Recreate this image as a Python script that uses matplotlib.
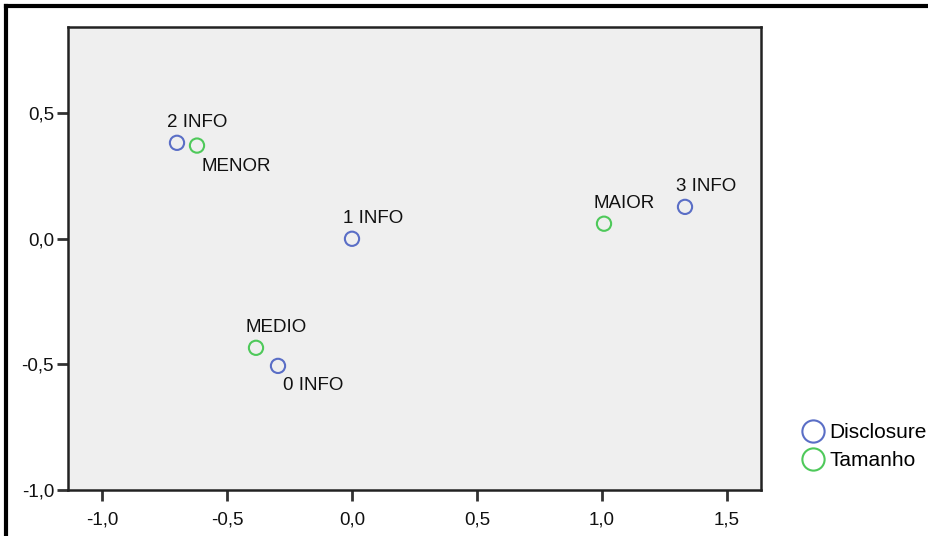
import matplotlib
matplotlib.use("Agg")
import matplotlib.pyplot as plt
from matplotlib.lines import Line2D

plt.rcParams['font.family'] = ['Liberation Sans', 'DejaVu Sans']

disc_labels = ["0 INFO", "1 INFO", "2 INFO", "3 INFO"]
disc_x = [-0.296, 0.0, -0.70, 1.332]
disc_y = [-0.506, 0.0, 0.382, 0.127]

tam_labels = ["MENOR", "MEDIO", "MAIOR"]
tam_x = [-0.62, -0.384, 1.008]
tam_y = [0.371, -0.434, 0.060]

xticks = [-1.0, -0.5, 0.0, 0.5, 1.0, 1.5]
yticks = [-1.0, -0.5, 0.0, 0.5]

blue = "#5a6ec6"
green = "#4ec95a"
FS = 13.5

W, H = 929, 536
fig = plt.figure(figsize=(W/100, H/100), dpi=100)
ax = fig.add_axes([68/W, 1-490/H, (761-68)/W, (490-27)/H])
ax.set_facecolor("#efefef")

ax.scatter(disc_x, disc_y, s=105, facecolors='none', edgecolors=blue, linewidths=1.5, zorder=3)
ax.scatter(tam_x, tam_y, s=105, facecolors='none', edgecolors=green, linewidths=1.5, zorder=3)

# label offsets in pixels relative to the marker (baseline-anchored)
disc_off = {"0 INFO": (5, -24),
            "1 INFO": (-9, 16),
            "2 INFO": (-10, 16),
            "3 INFO": (-9, 16)}
tam_off = {"MENOR": (5, -25),
           "MEDIO": (-10, 16),
           "MAIOR": (-10, 16)}

for lab, x, y in zip(disc_labels, disc_x, disc_y):
    dx, dy = disc_off[lab]
    ax.annotate(lab, (x, y), xytext=(dx, dy), textcoords='offset pixels',
                ha='left', va='baseline', fontsize=FS, color='#111111')
for lab, x, y in zip(tam_labels, tam_x, tam_y):
    dx, dy = tam_off[lab]
    ax.annotate(lab, (x, y), xytext=(dx, dy), textcoords='offset pixels',
                ha='left', va='baseline', fontsize=FS, color='#111111')

ax.set_xlim(-1.136, 1.636)
ax.set_ylim(-1.0, 0.843)
ax.set_xticks(xticks)
ax.set_yticks(yticks)
ax.set_xticklabels([f"{v:.1f}".replace('.', ',') for v in xticks])
ax.set_yticklabels([f"{v:.1f}".replace('.', ',') for v in yticks])
ax.tick_params(axis='both', direction='out', length=8, width=2, color='#333333',
               labelsize=FS, labelcolor='#111111')
ax.tick_params(axis='x', pad=7.5)
ax.tick_params(axis='y', pad=2)
for s in ax.spines.values():
    s.set_color('#222222')
    s.set_linewidth(1.8)

handles = [Line2D([], [], marker='o', linestyle='none', markersize=16, markerfacecolor='none',
                  markeredgecolor=blue, markeredgewidth=1.5, label='Disclosure'),
           Line2D([], [], marker='o', linestyle='none', markersize=16, markerfacecolor='none',
                  markeredgecolor=green, markeredgewidth=1.5, label='Tamanho')]
fig.legend(handles=handles, loc='upper left', bbox_to_anchor=(802/W, 1-423/H),
           frameon=False, fontsize=15, handletextpad=0.2, labelspacing=0.45,
           borderaxespad=0, borderpad=0, handlelength=1.1)

# outer frame (top and left)
fig.add_artist(Line2D([6/W, 1], [1-6/H, 1-6/H], transform=fig.transFigure, color='black', lw=3))
fig.add_artist(Line2D([6/W, 6/W], [0, 1-6/H], transform=fig.transFigure, color='black', lw=3))

fig.savefig("out.png", dpi=100)
